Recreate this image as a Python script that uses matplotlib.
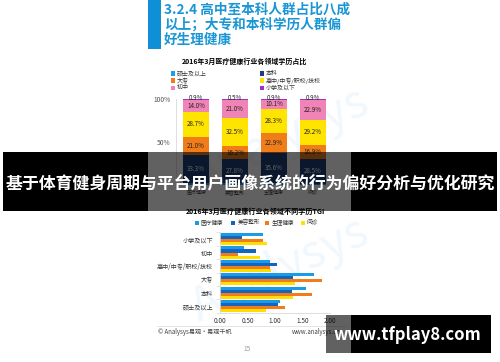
import numpy as np
import matplotlib
matplotlib.use('Agg')
from matplotlib import pyplot as plt
from matplotlib.patches import Rectangle

plt.rcParams['font.family'] = ['Noto Sans CJK SC', 'DejaVu Sans']

# 上图：各领域学历占比 (%)
cats = ['医疗健康', '美容整形', '生理健康', '问诊']
edu = ['硕士及以上', '本科', '大专', '高中/中专/职校/技校', '初中', '小学及以下']
shuoshi = [2.1, 2.0, 2.2, 1.6]
benke = [33.3, 27.8, 35.6, 28.5]
dazhuan = [21.0, 16.2, 22.9, 16.9]
gaozhong = [28.7, 32.5, 28.3, 29.2]
chuzhong = [14.0, 21.0, 10.1, 22.9]
xiaoxue = [0.9, 0.5, 0.9, 0.9]
edu_colors = ['#1aa0e6', '#1f3e78', '#f07d1a', '#ffe400', '#f184b6', '#9933cc']

# 下图：各领域不同学历TGI
hcats = ['小学及以下', '初中', '高中/中专/职校/技校', '大专', '本科', '硕士及以上']
fields = ['医疗健康', '美容整形', '生理健康', '问诊']
tgi_yiliao = [0.79, 0.44, 0.91, 1.70, 1.56, 1.09]
tgi_meirong = [0.40, 0.65, 1.03, 1.32, 1.30, 1.06]
tgi_shengli = [0.78, 0.32, 0.90, 1.85, 1.67, 1.18]
tgi_wenzhen = [0.85, 0.72, 0.93, 1.36, 1.33, 0.84]
field_colors = ['#1a9be6', '#1565c0', '#f07d1a', '#ffe000']

W, H = 500, 362
fig = plt.figure(figsize=(W / 100, H / 100), dpi=100)

def fx(x):
    return x / W

def fy(y):
    return 1 - y / H

def box(x0, y0, x1, y1, **kw):
    fig.add_artist(Rectangle((fx(x0), fy(y1)), fx(x1) - fx(x0), fy(y0) - fy(y1),
                             transform=fig.transFigure, **kw))

# 水印
fig.text(fx(280), fy(140), 'Analysys', color='#f1f8fd', fontsize=34, rotation=25,
         ha='center', va='center', style='italic', zorder=-1)
fig.text(fx(280), fy(270), 'Analysys', color='#f1f8fd', fontsize=34, rotation=25,
         ha='center', va='center', style='italic', zorder=-1)

# 标题
box(148, 0, 161, 49, color='#0e8fd6', lw=0)
title_lines = ['3.2.4 高中至本科人群占比八成', '以上；大专和本科学历人群偏', '好生理健康']
for i, t in enumerate(title_lines):
    fig.text(fx(164), fy(9.5 + i * 15.3), t, color='#1a96d4', fontsize=9.8,
             fontweight='bold', va='center', ha='left')

# ---- 上图 堆积柱状图 ----
fig.text(fx(244), fy(61), '2016年3月医疗健康行业各领域学历占比', fontsize=5,
         fontweight='bold', ha='center', va='center')
leg_pos = [(171, 73.5), (260, 73.5), (171, 80.5), (260, 80.5), (171, 87.8), (260, 87.8)]
for (lx, ly), name, c in zip(leg_pos, edu, edu_colors):
    box(lx, ly - 2, lx + 4, ly + 2, color=c, lw=0)
    fig.text(fx(lx + 6), fy(ly), name, fontsize=4.3, va='center', ha='left', color='#333333')

ax1 = fig.add_axes([fx(176), fy(185), fx(331.6) - fx(176), fy(99.3) - fy(185)])
ax1.set_facecolor('none')
series = [shuoshi, benke, dazhuan, gaozhong, chuzhong, xiaoxue]
x = np.arange(len(cats))
bottom = np.zeros(len(cats))
for k, (vals, c) in enumerate(zip(series, edu_colors)):
    ax1.bar(x, vals, bottom=bottom, width=0.68, color=c, lw=0)
    if k > 0:
        for xi, b, v in zip(x, bottom, vals):
            tc = 'white' if k == 1 else '#222222'
            ty = b + v + 1.2 if k == 5 else b + v / 2
            ax1.text(xi, ty, f'{v:.1f}%', ha='center', va='center', fontsize=4.5, color=tc,
                     clip_on=False)
    bottom += np.array(vals)
ax1.set_xlim(-0.515, 3.485)
ax1.set_ylim(0, 100)
ax1.set_yticks([50, 100])
ax1.set_yticklabels(['50%', '100%'], fontsize=4.8, color='#555555')
ax1.set_xticks(x)
ax1.set_xticklabels(cats, fontsize=3.6, color='#444444')
ax1.tick_params(length=0, pad=4)
for s in ['top', 'right', 'bottom']:
    ax1.spines[s].set_visible(False)
ax1.spines['left'].set_color('#d9d9d9')
ax1.spines['left'].set_linewidth(0.6)

# ---- 下图 TGI 条形图 ----
fig.text(fx(256), fy(211.5), '2016年3月医疗健康行业各领域不同学历TGI', fontsize=5.1,
         fontweight='bold', ha='center', va='center')
leg2 = [196.7, 233.3, 267.3, 302.7]
for lx, name, c in zip(leg2, fields, field_colors):
    box(lx - 2, 220.7, lx + 2, 224.7, color=c, lw=0)
    fig.text(fx(lx + 4), fy(222.7), name, fontsize=4.1, va='center', ha='left', color='#333333')

ax2 = fig.add_axes([fx(220), fy(312.8), fx(330) - fx(220), fy(232.4) - fy(312.8)])
ax2.set_facecolor('none')
tgi = [tgi_yiliao, tgi_meirong, tgi_shengli, tgi_wenzhen]
y = np.arange(len(hcats))
bh = 0.225
for j, (vals, c) in enumerate(zip(tgi, field_colors)):
    ax2.barh(y + (j - 1.5) * bh, vals, height=bh, color=c, lw=0)
ax2.set_ylim(5.5, -0.5)
ax2.set_xlim(0, 2)
ax2.set_yticks(y)
ax2.set_yticklabels(hcats, fontsize=4.4, color='#333333')
ax2.set_yticks(np.arange(-0.5, 6, 1), minor=True)
ax2.set_xticks([0, 0.5, 1.0, 1.5, 2.0])
ax2.set_xticklabels(['0.00', '0.50', '1.00', '1.50', '2.00'], fontsize=4.6, color='#333333')
ax2.tick_params(axis='y', which='major', length=0, pad=5)
ax2.tick_params(axis='y', which='minor', length=3, color='#d9d9d9', width=0.5)
ax2.tick_params(axis='x', length=0, pad=3)
for s in ['top', 'right']:
    ax2.spines[s].set_visible(False)
for s in ['left', 'bottom']:
    ax2.spines[s].set_color('#d9d9d9')
    ax2.spines[s].set_linewidth(0.6)

# 页脚
fig.add_artist(plt.Line2D([fx(157), fx(345)], [fy(325.7), fy(325.7)], color='#e0e0e0',
                          lw=0.6, transform=fig.transFigure))
fig.text(fx(158), fy(332), '© Analysys易观·易观千帆', fontsize=4.4, va='center', ha='left',
         color='#444444')
fig.text(fx(341), fy(332), 'www.analysys.cn', fontsize=4.4, va='center', ha='right',
         color='#444444')
fig.text(fx(247), fy(349), '15', fontsize=4.6, va='center', ha='center', color='#999999')

# 横幅遮罩
box(3, 152, 148, 210.7, color='black', lw=0, zorder=5)
box(351, 152, 497, 210.7, color='black', lw=0, zorder=5)
box(148, 152, 351, 210.7, color='black', alpha=0.62, lw=0, zorder=5)
fig.text(fx(250), fy(183), '基于体育健身周期与平台用户画像系统的行为偏好分析与优化研究',
         color='white', fontsize=12.2, fontweight='bold', ha='center', va='center', zorder=6)

box(326, 314.7, 351, 352.7, color='black', alpha=0.62, lw=0, zorder=5)
box(351, 314.7, 490.7, 352.7, color='black', lw=0, zorder=5)
fig.text(fx(407.5), fy(335), 'www.tfplay8.com', color='white', fontsize=12,
         fontweight='bold', ha='center', va='center', zorder=6)

fig.savefig('out.png', dpi=100)
